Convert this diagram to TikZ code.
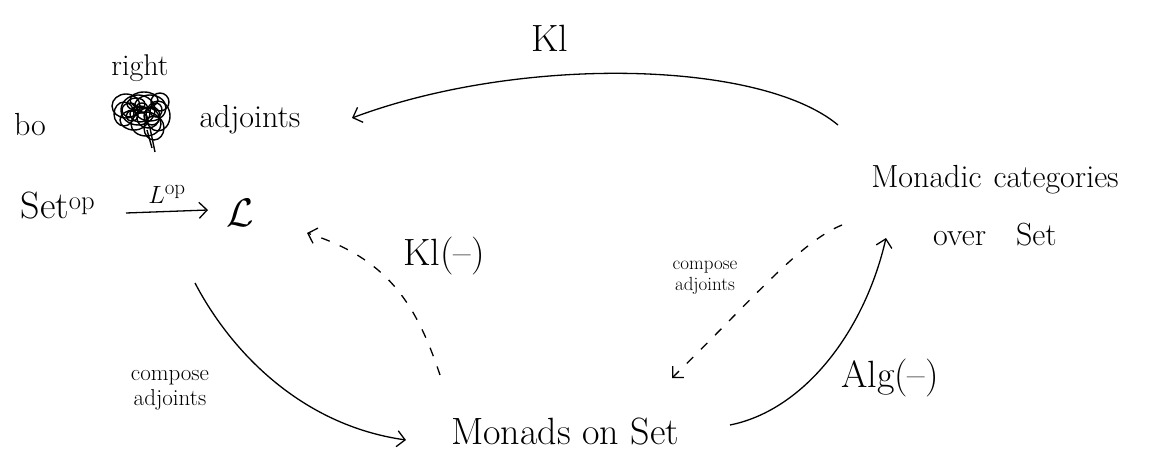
\documentclass[tikz,border=0pt]{standalone}
\usepackage{graphicx}
\usepackage{fontspec}
\usetikzlibrary{arrows.meta}
\begin{document}
\begin{tikzpicture}[x=1pt,y=-1pt,
  lbl/.style={font=\fontsize{32}{36}\selectfont, inner sep=2pt},
  big/.style={font=\fontsize{38}{42}\selectfont, inner sep=2pt},
  sml/.style={font=\fontsize{30}{32}\selectfont, inner sep=1pt},
  tiny/.style={font=\fontsize{19}{21}\selectfont, inner sep=1pt, align=center},
  conn/.style={line width=1.3pt, -{Straight Barb[length=8pt,width=16pt,line width=1.3pt]}},
  dconn/.style={conn, dash pattern=on 9pt off 11pt}]
\useasboundingbox (0,0) rectangle (1149,462);
\fill[white] (0,0) rectangle (1149,462);

% texts
\node[lbl] (bo) at (30,125) {bo};
\node[sml] (right) at (140,68) {right};
\node[lbl] (adj) at (250,120) {adjoints};
\node[big] (set) at (58,206) {Set$^{\mathrm{op}}$};
\node[big] (L) at (240,213) {\scalebox{1.6}{$\mathcal{L}$}};
\node[big] (mon) at (565,432) {Monads on Set};
\node[lbl] (mc) at (995,180) {Monadic\hspace{12pt}categories};
\node[lbl] (over) at (995,235) {over\hspace{30pt}Set};

% scribbled-out word
\begin{scope}[line width=1.4pt]
  \foreach \a/\b/\rx/\ry in {126/106/14/12, 138/110/17/15, 150/108/16/13, 158/116/12/15,
                              134/120/14/10, 146/124/15/12, 160/102/9/9, 124/114/10/12,
                              144/100/14/8, 154/128/10/12, 140/114/10/8, 152/116/8/9,
                              130/110/8/7, 148/118/11/10, 136/104/9/6, 142/108/6/5,
                              156/110/6/7, 132/116/6/5}
    \draw (\a,\b) ellipse [x radius=\rx, y radius=\ry];
  \draw (150,128) -- (155,152);
  \draw (147,130) -- (152,148);
\end{scope}

% Set^op -> L
\coordinate (s1) at (126,213);
\coordinate (l1) at (208,210);
\draw[conn] (s1) -- (l1) node[midway, above=6pt, sml] (lop) {$L^{\mathrm{op}}$};

% Kl top arrow
\coordinate (klstart) at (838,125);
\coordinate (klend) at (352,118);
\draw[conn] (klstart) .. controls (760,60) and (520,55) .. (klend);
\node[big] (kl) at (550,38) {Kl};

% Kl(-) dashed
\coordinate (kd1) at (440,375);
\coordinate (kd2) at (307,233);
\draw[dconn] (kd1) .. controls (415,300) and (385,258) .. (kd2);
\node[big] (klm) at (444,256) {Kl(--)};

% compose adjoints left
\coordinate (ca1) at (195,283);
\coordinate (ca2) at (406,440);
\draw[conn] (ca1) .. controls (230,350) and (300,425) .. (ca2);
\node[tiny, font=\fontsize{23}{25}\selectfont] (cal) at (170,390) {compose\\adjoints};

% Alg(-)
\coordinate (al1) at (730,425);
\coordinate (al2) at (886,238);
\draw[conn] (al1) .. controls (805,410) and (865,330) .. (al2);
\node[big] (alg) at (890,378) {Alg(--)};

% compose adjoints dashed right
\coordinate (cd1) at (842,225);
\coordinate (cd2) at (672,378);
\draw[dconn] (cd1) .. controls (800,242) and (752,300) .. (cd2);
\node[tiny] (cdl) at (705,278) {compose\\adjoints};
\end{tikzpicture}
\end{document}
